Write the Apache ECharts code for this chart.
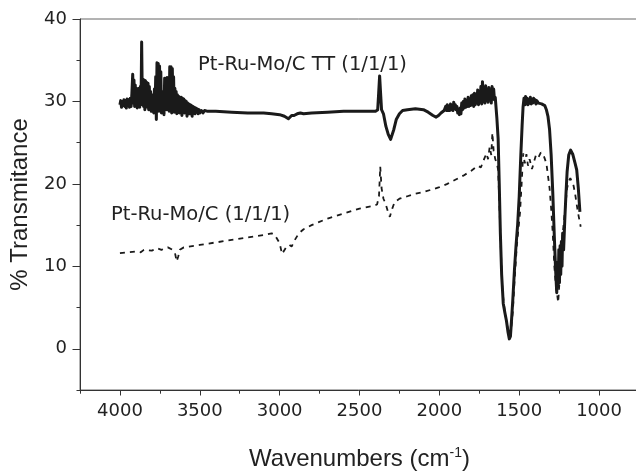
<!DOCTYPE html>
<html>
<head>
<meta charset="utf-8">
<script src="https://cdn.jsdelivr.net/npm/echarts@6/dist/echarts.min.js"></script>
<style>html,body{margin:0;padding:0;background:#fff;}#c{width:636px;height:471px;}</style>
</head>
<body>
<div id="c"></div>
<script>
// Pt-Ru-Mo/C TT (1/1/1) — solid
var ttWave = [4000,3995,3990,3985,3980,3975,3970,3965,3960,3955,3950,3945,3940,3935,3930,3925,3920,3916,3912,3908,3904,3900,3896,3892,3888,3884,3880,3876,3872,3868,3864,3860,3856,3852,3848,3844,3840,3836,3832,3828,3824,3820,3816,3812,3808,3804,3800,3796,3792,3788,3784,3780,3776,3772,3768,3764,3760,3756,3752,3748,3744,3740,3736,3732,3728,3724,3720,3716,3712,3708,3704,3700,3696,3692,3688,3684,3680,3676,3672,3668,3664,3660,3656,3652,3648,3644,3640,3636,3632,3628,3624,3620,3616,3612,3608,3604,3600,3596,3592,3588,3584,3580,3576,3572,3568,3564,3560,3556,3552,3548,3544,3540,3535,3530,3525,3520,3515,3510,3505,3500,3490,3480,3470,3460,3450,3400,3300,3200,3100,3050,3000,2970,2945,2935,2925,2910,2890,2870,2850,2800,2700,2600,2500,2400,2386,2380,2374,2368,2362,2350,2335,2320,2305,2295,2285,2270,2250,2230,2200,2150,2100,2070,2040,2020,2005,1990,1970,1960,1955,1950,1945,1940,1935,1930,1925,1920,1915,1910,1905,1900,1895,1890,1885,1880,1875,1870,1865,1860,1855,1850,1845,1840,1835,1830,1825,1820,1815,1810,1805,1800,1795,1790,1785,1780,1775,1770,1765,1760,1755,1750,1745,1740,1735,1730,1725,1720,1715,1710,1705,1700,1695,1690,1685,1680,1675,1670,1665,1660,1655,1650,1640,1632,1625,1618,1610,1600,1590,1580,1570,1562,1555,1548,1540,1530,1520,1510,1500,1490,1482,1476,1470,1465,1460,1455,1450,1445,1440,1435,1430,1425,1420,1415,1410,1405,1400,1395,1390,1380,1370,1360,1350,1340,1330,1320,1310,1300,1290,1280,1272,1265,1260,1256,1252,1248,1244,1240,1236,1232,1228,1222,1215,1208,1200,1190,1178,1165,1150,1140,1130,1120];
var ttT = [29.6,30.1,29.3,30.0,29.5,30.2,29.4,30.1,29.2,30.3,29.5,30.2,29.3,30.4,29.4,31.0,33.3,29.8,32.6,29.4,32.0,29.6,31.6,29.2,31.4,29.5,31.6,29.3,31.8,29.6,37.2,30.5,32.7,29.4,32.6,29.0,32.5,29.6,32.3,29.3,32.2,29.0,31.8,29.5,31.2,28.8,30.6,29.0,30.8,28.6,31.5,29.2,33.0,27.8,34.7,29.0,34.6,28.8,34.3,29.3,33.6,28.6,31.2,29.5,30.8,28.4,32.8,29.2,32.8,29.0,32.9,29.4,32.6,28.8,34.2,29.5,34.2,28.6,34.0,29.4,33.0,28.7,31.6,29.3,31.2,28.5,30.8,29.2,30.6,28.6,30.5,29.3,30.5,28.3,30.4,29.2,30.3,28.6,30.1,29.3,30.0,28.2,29.8,29.1,29.7,28.5,29.6,29.0,29.5,28.2,29.4,28.9,29.3,28.5,29.2,28.7,29.1,28.5,29.0,28.6,28.9,28.6,28.9,28.7,28.8,28.8,28.7,28.6,28.6,28.5,28.4,28.2,27.9,28.0,28.3,28.3,28.5,28.6,28.5,28.6,28.7,28.8,28.8,28.8,29.0,31.0,33.1,31.0,29.0,28.5,27.0,26.0,25.4,25.5,26.6,27.8,28.5,28.9,29.0,29.1,29.0,28.7,28.3,28.1,28.3,28.6,28.9,29.4,28.9,29.6,28.9,29.3,28.9,29.7,29.0,29.5,28.9,29.9,29.1,29.6,29.0,29.4,28.6,29.0,28.4,29.2,28.5,29.8,29.0,30.0,29.2,30.3,29.3,30.1,29.4,30.5,29.4,30.3,29.5,30.7,29.6,30.8,29.4,31.0,29.6,30.8,29.8,31.4,29.6,31.2,29.9,31.8,29.7,32.4,30.0,31.6,29.8,31.9,30.1,31.2,29.9,31.7,30.2,31.4,29.8,31.8,30.3,31.5,30.2,30.5,28.0,25.5,20,14,9,5.5,4.4,3.4,2.0,1.2,1.5,3.5,6.0,9.5,12.5,15.0,18.5,23.5,27.0,29.3,30.4,29.6,30.6,29.7,30.4,29.6,30.1,29.8,30.5,29.7,30.2,29.8,30.4,29.9,30.2,29.7,30.1,29.8,30.0,29.7,29.8,29.5,29.0,28.2,26.6,23.5,19,13.5,9.5,6.8,10.5,7.5,12,8,12.5,9,13,10,14,12.0,15.5,18.5,21.5,23.5,24.1,23.6,22.5,21.7,19.5,16.6];

// Pt-Ru-Mo/C (1/1/1) — dashed
var asWave = [4000,3950,3900,3870,3850,3800,3770,3740,3700,3670,3655,3645,3635,3625,3600,3500,3400,3300,3200,3100,3050,3030,3000,2985,2975,2960,2940,2925,2905,2880,2850,2800,2700,2600,2500,2420,2390,2378,2370,2362,2350,2335,2320,2310,2295,2280,2250,2200,2150,2100,2050,2000,1950,1900,1850,1800,1760,1740,1720,1705,1695,1685,1675,1668,1660,1650,1640,1632,1625,1615,1605,1590,1575,1560,1550,1540,1530,1515,1505,1495,1485,1475,1465,1455,1445,1435,1420,1410,1395,1380,1365,1350,1340,1330,1320,1310,1300,1290,1280,1270,1262,1256,1250,1244,1238,1230,1220,1210,1200,1190,1180,1170,1160,1150,1140,1130,1115];
var asT = [11.6,11.7,11.8,11.7,12.0,11.9,12.2,12.0,12.3,12.0,11.6,10.6,11.2,12.0,12.3,12.6,12.9,13.2,13.5,13.8,14.0,13.8,12.8,11.5,11.7,12.3,12.6,12.4,13.2,14.0,14.5,15.0,15.8,16.4,17.0,17.3,17.5,18.5,22.1,19.5,18.2,17.5,16.5,16.0,17.0,17.8,18.2,18.5,18.8,19.0,19.3,19.6,20.0,20.5,21.0,21.6,22.2,22.0,23.0,23.7,23.0,24.5,23.5,26.2,24.0,23.0,22.5,21.7,18,12,7,4.5,2.8,1.6,2.5,4.5,8,12.5,14.5,16.5,20,23.7,22.5,23.6,22.2,23.0,21.8,22.5,23.5,23.2,23.8,23.6,23.7,22.5,21.0,19.5,17,14,10,7.5,6.5,5.6,7.5,9.5,12,13.5,15.5,17.5,19.5,20.3,20.7,20.5,19.8,18.8,17.5,16.3,14.8];

var xLabelTicks = [1000,1500,2000,2500,3000,3500,4000];
var xMinorTicks = [1250,1750,2250,2750,3250,3750,4250];
var yLabelTicks = [0,10,20,30,40];
var yMinorTicks = [-5,5,15,25,35];

function zip(a,b){var r=[];for(var i=0;i<a.length;i++)r.push([a[i],b[i]]);return r;}

var chart = echarts.init(document.getElementById('c'), null, {renderer:'canvas'});
var tickFont = 'DejaVu Sans';
var titleFont = 'Liberation Sans';
var axisColor = '#333';
var textColor = '#222';

chart.setOption({
  animation:false,
  backgroundColor:'#fff',
  grid:{left:80,right:-3,top:19,bottom:81,containLabel:false,outerBoundsMode:'none',show:true,borderColor:'#666',borderWidth:1},
  xAxis:[{
    type:'value',inverse:true,min:750,max:4250,interval:250,
    axisLine:{onZero:false,lineStyle:{color:axisColor,width:1}},
    axisTick:{show:true,inside:false,length:5.5,customValues:xLabelTicks,lineStyle:{color:axisColor,width:1}},
    axisLabel:{customValues:xLabelTicks,formatter:function(v){return (v%500===0)?String(v):'';},fontFamily:tickFont,fontSize:18,color:textColor,margin:12},
    splitLine:{show:false},
    name:'{a|Wavenumbers (cm}{s|-1}{a|)}',nameLocation:'middle',nameGap:56,
    nameTextStyle:{rich:{a:{fontFamily:titleFont,fontSize:24,color:textColor},s:{fontFamily:titleFont,fontSize:14,color:textColor,padding:[0,0,12,0]}}}
  },{
    type:'value',inverse:true,min:750,max:4250,interval:250,position:'bottom',
    axisLine:{show:false,onZero:false},
    axisTick:{show:true,length:3.7,customValues:xMinorTicks,lineStyle:{color:axisColor,width:1}},
    axisLabel:{show:false},splitLine:{show:false}
  }],
  yAxis:[{
    type:'value',min:-5,max:40,interval:5,
    axisLine:{show:true,onZero:false,lineStyle:{color:axisColor,width:1}},
    axisTick:{show:true,length:7.5,customValues:yLabelTicks,lineStyle:{color:axisColor,width:1}},
    axisLabel:{customValues:yLabelTicks,formatter:function(v){return (v%10===0)?String(v):'';},fontFamily:tickFont,fontSize:18,color:textColor,margin:13},
    splitLine:{show:false},
    name:'% Transmitance',nameLocation:'middle',nameGap:48,
    nameTextStyle:{fontFamily:titleFont,fontSize:24,color:textColor}
  },{
    type:'value',min:-5,max:40,interval:5,position:'left',
    axisLine:{show:false,onZero:false},
    axisTick:{show:true,length:3.5,customValues:yMinorTicks,lineStyle:{color:axisColor,width:1}},
    axisLabel:{show:false},splitLine:{show:false}
  }],
  series:[{
    type:'line',name:'Pt-Ru-Mo/C (1/1/1)',data:zip(asWave,asT),showSymbol:false,symbol:'none',
    lineStyle:{color:'#1a1a1a',width:1.8,type:[5,5]},z:2
  },{
    type:'line',name:'Pt-Ru-Mo/C TT (1/1/1)',data:zip(ttWave,ttT),showSymbol:false,symbol:'none',
    lineStyle:{color:'#1a1a1a',width:3,join:'round'},z:3
  }],
  graphic:[
    {type:'text',left:198,top:55,style:{text:'Pt-Ru-Mo/C TT (1/1/1)',font:'19.5px "DejaVu Sans"',fill:textColor}},
    {type:'text',left:111,top:205,style:{text:'Pt-Ru-Mo/C (1/1/1)',font:'19.5px "DejaVu Sans"',fill:textColor}}
  ]
});
</script>
</body>
</html>
